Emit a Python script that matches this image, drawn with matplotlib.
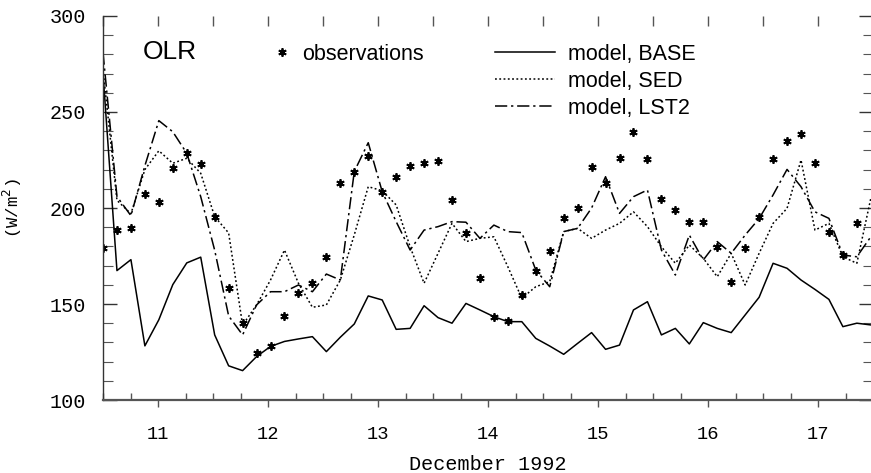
import numpy as np
import matplotlib
matplotlib.use('Agg')
import matplotlib.pyplot as plt

# 3-hourly samples, December 1992 (day of month)
day = np.linspace(10.5, 17.48, 56)

# OLR (W/m2)
obs = [179.0, 188.5, 189.7, 207.1, 203.3, 220.7, 228.5, 222.7, 195.1, 158.5,
       140.3, 124.3, 128.1, 143.8, 155.9, 160.8, 174.6, 212.8, 218.7, 227.0,
       208.4, 216.3, 221.7, 223.3, 224.4, 204.2, 187.1, 163.4, 143.1, 141.1,
       154.7, 167.2, 177.6, 194.6, 199.8, 221.5, 212.8, 225.9, 239.7, 225.5,
       204.7, 199.0, 192.6, 192.9, 179.8, 161.3, 179.0, 195.5, 225.3, 235.1,
       238.4, 223.6, 187.7, 175.5, 192.3]

base = [270.0, 167.4, 173.1, 128.2, 141.8, 160.1, 171.4, 174.4, 133.9, 117.8,
        115.3, 122.6, 127.9, 130.5, 131.8, 133.0, 125.2, 132.7, 139.6, 154.2,
        152.1, 136.8, 137.3, 149.1, 142.9, 140.0, 150.3, 146.9, 143.4, 140.8,
        140.8, 132.1, 128.1, 123.8, 129.5, 135.1, 126.4, 128.6, 146.9, 151.2,
        133.9, 137.3, 129.2, 140.3, 137.3, 135.1, 144.3, 153.5, 171.2, 168.6,
        162.5, 157.6, 152.4, 138.2, 140.0, 139.1]

sed = [272.0, 204.0, 197.0, 220.0, 229.8, 223.3, 225.9, 218.1, 195.5, 187.0,
       139.0, 149.5, 162.5, 178.1, 160.8, 148.3, 149.5, 162.5, 186.0, 211.1,
       209.0, 201.6, 179.8, 160.8, 176.4, 192.0, 182.5, 184.2, 185.0, 169.4,
       153.0, 159.0, 161.6, 187.7, 189.4, 184.2, 188.5, 192.0, 198.0, 190.3,
       179.8, 171.2, 180.7, 173.8, 164.2, 176.4, 159.9, 176.4, 192.0, 199.8,
       225.0, 188.5, 192.0, 174.6, 171.2, 205.0]

lst2 = [281.0, 206.0, 196.0, 222.0, 245.5, 239.7, 228.5, 205.9, 178.0, 143.8,
        133.9, 149.5, 156.4, 156.4, 159.9, 156.4, 165.6, 162.5, 219.0, 234.0,
        208.5, 192.9, 178.1, 188.5, 190.3, 192.9, 192.6, 184.2, 191.1, 187.7,
        187.2, 167.7, 159.0, 187.7, 189.4, 200.0, 216.3, 197.2, 205.9, 209.4,
        178.1, 165.1, 185.9, 172.9, 182.5, 176.4, 185.9, 194.5, 206.8, 220.1,
        211.1, 198.0, 194.6, 175.5, 174.6, 185.0]

mono = 'Liberation Mono'
sans = 'Liberation Sans'

fig = plt.figure(figsize=(8.71, 4.73), dpi=100)
ax = fig.add_axes([103 / 871, 73 / 473, 770 / 871, 384 / 473])

dotted = (0, (1.2, 1.6))
dashdot = (0, (8, 2.5, 1.5, 2.5))

ax.plot(day, base, color='black', lw=1.1, label='model, BASE')
ax.plot(day, sed, color='black', lw=1.1, linestyle=dotted, label='model, SED')
ax.plot(day, lst2, color='black', lw=1.1, linestyle=dashdot, label='model, LST2')
ax.plot(day[:len(obs)], obs, linestyle='none', marker=(6, 2, 0), ms=6,
        mew=1.3, color='black', label='observations')

ax.set_xlim(10.5, 17.5)
ax.set_ylim(100, 300)

ax.set_xticks([11, 12, 13, 14, 15, 16, 17])
ax.set_xticks(np.arange(10.5, 17.6, 0.25), minor=True)
ax.set_yticks([100, 150, 200, 250, 300])
ax.set_yticks(np.arange(100, 301, 10), minor=True)

ax.spines['top'].set_visible(False)
ax.spines['right'].set_visible(False)
ax.spines['left'].set_color('#333333')
ax.spines['left'].set_linewidth(1.0)
ax.spines['bottom'].set_color('#555555')
ax.spines['bottom'].set_linewidth(1.6)

ax.tick_params(axis='x', which='major', direction='out', length=5, width=1,
               color='#555555', pad=14, labelsize=13.5)
ax.tick_params(axis='x', which='minor', direction='in', length=5, width=1,
               color='#555555')
ax.tick_params(axis='y', which='major', direction='in', length=10, width=1,
               color='#333333', pad=12, labelsize=14.5, right=True)
ax.tick_params(axis='y', which='minor', direction='in', length=7, width=0.8,
               color='#555555', right=True)
for lab in ax.get_xticklabels() + ax.get_yticklabels():
    lab.set_fontfamily(mono)

# half-day ticks hanging from the (undrawn) top edge
top = ax.secondary_xaxis('top')
top.set_xticks(np.arange(10.5, 17.6, 0.5))
top.tick_params(direction='in', length=7, width=1, color='#555555',
                labeltop=False)
top.spines['top'].set_visible(False)

ax.set_xlabel('December 1992', fontfamily=mono, fontsize=14.5)
ax.xaxis.set_label_coords(0.5, -0.143)
ax.set_ylabel('(W/m$^2$)', fontfamily=mono, fontsize=12.5)
ax.yaxis.set_label_coords(-0.102, 0.5)

ax.text(0.052, 0.906, 'OLR', transform=ax.transAxes, fontfamily=sans,
        fontsize=19, va='center', ha='left')

h = ax.get_legend_handles_labels()[0]
leg1 = ax.legend(handles=[h[3]], loc='upper left', bbox_to_anchor=(0.218, 0.928),
                 frameon=False, prop={'family': sans, 'size': 15.5},
                 handlelength=1.0, handletextpad=0.45, borderpad=0,
                 borderaxespad=0)
ax.add_artist(leg1)
ax.legend(handles=h[:3], loc='upper left', bbox_to_anchor=(0.509, 0.928),
          frameon=False, prop={'family': sans, 'size': 15.5},
          handlelength=2.8, handletextpad=0.6, labelspacing=0.28,
          borderpad=0, borderaxespad=0)

fig.savefig('out.png', dpi=100)
